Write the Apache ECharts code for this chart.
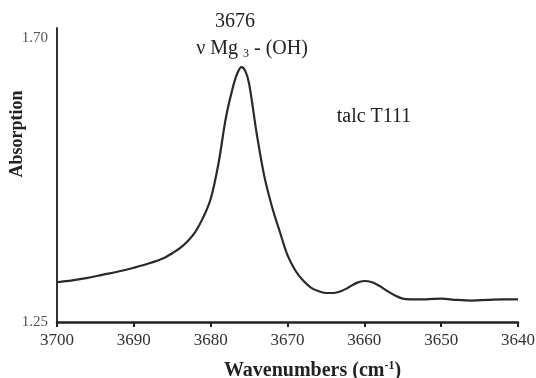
<!DOCTYPE html>
<html>
<head>
<meta charset="utf-8">
<script src="https://cdn.jsdelivr.net/npm/echarts@6/dist/echarts.min.js"></script>
<style>
  html, body { margin: 0; padding: 0; background: #fff; }
  #chart { width: 536px; height: 378px; }
</style>
</head>
<body>
<div id="chart"></div>
<script>
// wavenumbers (cm-1) and absorption
const wavenumbers = [3700, 3698, 3696, 3694, 3692, 3690, 3688, 3686, 3685, 3684, 3683, 3682, 3681, 3680, 3679, 3678, 3677, 3676.5, 3676, 3675.5, 3675, 3674, 3673, 3672, 3671, 3670, 3669, 3668, 3667, 3666, 3665, 3664, 3663, 3662, 3661, 3660, 3659, 3658, 3657, 3656, 3655, 3654, 3652, 3650, 3648, 3646, 3644, 3642, 3640];
const absorption = [1.313, 1.316, 1.320, 1.325, 1.330, 1.336, 1.343, 1.352, 1.359, 1.367, 1.378, 1.393, 1.415, 1.445, 1.500, 1.575, 1.627, 1.645, 1.654, 1.648, 1.628, 1.548, 1.480, 1.432, 1.393, 1.356, 1.332, 1.316, 1.305, 1.299, 1.296, 1.296, 1.299, 1.305, 1.312, 1.315, 1.313, 1.307, 1.299, 1.292, 1.287, 1.286, 1.286, 1.287, 1.285, 1.284, 1.285, 1.286, 1.286];
const yTickLabels = ['1.25', '1.70'];

const serif = '"Liberation Serif", "DejaVu Serif", serif';

const chart = echarts.init(document.getElementById('chart'));
chart.setOption({
  animation: false,
  grid: { left: 57, right: 18, top: 28, bottom: 56, containLabel: false, outerBoundsMode: 'none' },
  xAxis: {
    type: 'value',
    inverse: true,
    min: 3640,
    max: 3700,
    interval: 10,
    name: '{a|Wavenumbers (cm}{s|-1}{a|)}',
    nameLocation: 'middle',
    nameGap: 38,
    nameTextStyle: {
      padding: [0, 0, 0, 50],
      rich: {
        a: { fontFamily: serif, fontWeight: 'bold', fontSize: 20, color: '#222', lineHeight: 22 },
        s: { fontFamily: serif, fontWeight: 'bold', fontSize: 12, color: '#222', verticalAlign: 'top', lineHeight: 22 }
      }
    },
    axisLine: { show: true, lineStyle: { color: '#222', width: 2.5 } },
    axisTick: { show: true, inside: false, length: 5, lineStyle: { color: '#222', width: 2 } },
    axisLabel: { fontFamily: serif, fontSize: 17, color: '#333', margin: 10, formatter: v => String(v) },
    splitLine: { show: false }
  },
  yAxis: {
    type: 'value',
    min: 1.25,
    max: 1.716,
    interval: 0.45,
    name: 'Absorption',
    nameLocation: 'middle',
    nameGap: 31,
    nameMoveOverlap: false,
    nameTextStyle: { fontFamily: serif, fontWeight: 'bold', fontSize: 18, color: '#222', padding: [0, 0, 0, 82] },
    axisLine: { show: true, lineStyle: { color: '#333', width: 2 } },
    axisTick: { show: false },
    axisLabel: {
      fontFamily: serif,
      fontSize: 15,
      color: '#555',
      margin: 9,
      formatter: function (v) {
        const s = v.toFixed(2);
        return yTickLabels.indexOf(s) >= 0 ? s : '';
      }
    },
    splitLine: { show: false }
  },
  graphic: [
    {
      type: 'text', x: 235, y: 22,
      style: { text: '3676', fontFamily: serif, fontSize: 20, fill: '#222', align: 'center', verticalAlign: 'middle' }
    },
    {
      type: 'text', x: 252, y: 49,
      style: {
        text: '{a|ν Mg }{s|3}{a| - (OH)}',
        align: 'center', verticalAlign: 'middle',
        rich: {
          a: { fontFamily: serif, fontSize: 20, fill: '#222', lineHeight: 22 },
          s: { fontFamily: serif, fontSize: 12, fill: '#222', verticalAlign: 'bottom', lineHeight: 22 }
        }
      }
    },
    {
      type: 'text', x: 374, y: 117,
      style: { text: 'talc T111', fontFamily: serif, fontSize: 20, fill: '#222', align: 'center', verticalAlign: 'middle' }
    }
  ],
  series: [
    {
      type: 'line',
      data: wavenumbers.map((w, i) => [w, absorption[i]]),
      smooth: 0.35,
      showSymbol: false,
      lineStyle: { color: '#2a2a2a', width: 2.2 }
    }
  ]
});
</script>
</body>
</html>
